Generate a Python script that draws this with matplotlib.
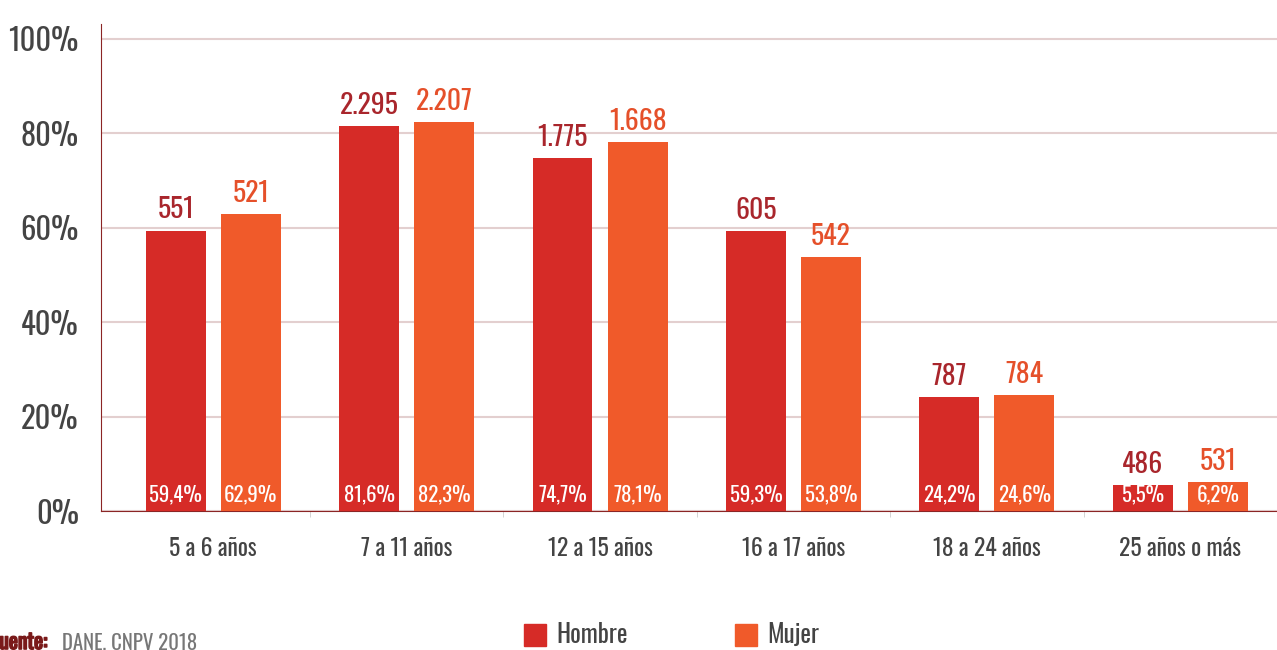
import matplotlib
matplotlib.use("Agg")
import matplotlib.pyplot as plt
import numpy as np
from matplotlib import font_manager as fm
from matplotlib.patches import Rectangle
import matplotlib.patheffects as pe
import matplotlib.transforms as mtransforms

available = {f.name for f in fm.fontManager.ttflist}
FONT = next((f for f in ["Oswald", "Roboto Condensed", "Archivo Narrow", "DejaVu Sans"] if f in available), "DejaVu Sans")
plt.rcParams["font.family"] = [FONT, "DejaVu Sans"]

categories = ["5 a 6 años", "7 a 11 años", "12 a 15 años", "16 a 17 años", "18 a 24 años", "25 años o más"]
hombre_pct = [59.4, 81.6, 74.7, 59.3, 24.2, 5.5]
mujer_pct = [62.9, 82.3, 78.1, 53.8, 24.6, 6.2]
hombre_n = ["551", "2.295", "1.775", "605", "787", "486"]
mujer_n = ["521", "2.207", "1.668", "542", "784", "531"]
yticks = [0, 20, 40, 60, 80, 100]
series_names = ["Hombre", "Mujer"]

C_H = "#d62b27"
C_M = "#f05a2a"
C_HL = "#a9262c"
C_ML = "#e5502a"
GREY = "#444444"
SPINE = "#8b2525"

fig = plt.figure(figsize=(12.77, 6.5), dpi=100)
ax = fig.add_axes([101/1277, 139/650, 1 - 101/1277, (511-37)/650])

x = np.arange(len(categories))
w = 0.31
off = 0.194
ax.bar(x - off, hombre_pct, w, color=C_H, zorder=3)
ax.bar(x + off, mujer_pct, w, color=C_M, zorder=3)

fmt = lambda v: f"{v:.1f}%".replace(".", ",")
for xi, hp, mp, hn, mn in zip(x, hombre_pct, mujer_pct, hombre_n, mujer_n):
    ax.text(xi - off, 1.5, fmt(hp), ha="center", va="bottom", color="white", fontsize=15, zorder=4)
    ax.text(xi + off, 1.5, fmt(mp), ha="center", va="bottom", color="white", fontsize=15, zorder=4)
    ax.text(xi - off, hp + 1.5, hn, ha="center", va="bottom", color=C_HL, fontsize=20, zorder=4)
    ax.text(xi + off, mp + 1.5, mn, ha="center", va="bottom", color=C_ML, fontsize=20, zorder=4)

ax.set_xlim(-0.58, len(categories) - 0.5)
ax.set_ylim(0, 100.4)
ax.set_yticks(yticks)
ax.set_yticklabels([f"{t}%" for t in yticks], fontsize=22, color=GREY)
up = mtransforms.ScaledTranslation(0, 5/100, fig.dpi_scale_trans)
for lbl in ax.get_yticklabels():
    lbl.set_transform(lbl.get_transform() + up)
ax.set_xticks(x)
ax.set_xticklabels(categories, fontsize=17, color=GREY)
ax.tick_params(axis="x", length=0, pad=19)
ax.tick_params(axis="y", length=0, pad=16)
ax.set_xticks(np.arange(0.5, len(categories) - 0.5, 1), minor=True)
ax.tick_params(axis="x", which="minor", length=4, color="#cccccc", direction="out")
ax.yaxis.grid(True, color="#e3cfcf", linewidth=1.5, zorder=0)
for s in ["top", "right"]:
    ax.spines[s].set_visible(False)
ax.spines["left"].set_color(SPINE)
ax.spines["bottom"].set_color(SPINE)
ax.spines["left"].set_bounds(0, 103.2)
ax.spines["left"].set_clip_on(False)

# legend
for i, (name, col) in enumerate(zip(series_names, [C_H, C_M])):
    x0 = 524 + i * 211
    fig.patches.append(Rectangle((x0/1277, (650-646)/650), 22/1277, 22/650, transform=fig.transFigure, color=col, figure=fig))
    fig.text((x0 + 32)/1277, (650-635)/650, name, fontsize=18, color=GREY, va="center", ha="left")

fig.text(-9/1277, (650-649)/650, "Fuente:", fontsize=15.5, color="#7a1a1a", fontweight="bold",
         va="baseline", ha="left", path_effects=[pe.withStroke(linewidth=1.2, foreground="#7a1a1a")])
fig.text(62/1277, (650-649)/650, "DANE, CNPV 2018", fontsize=15, color="#777777", va="baseline", ha="left")

fig.savefig("out.png")
